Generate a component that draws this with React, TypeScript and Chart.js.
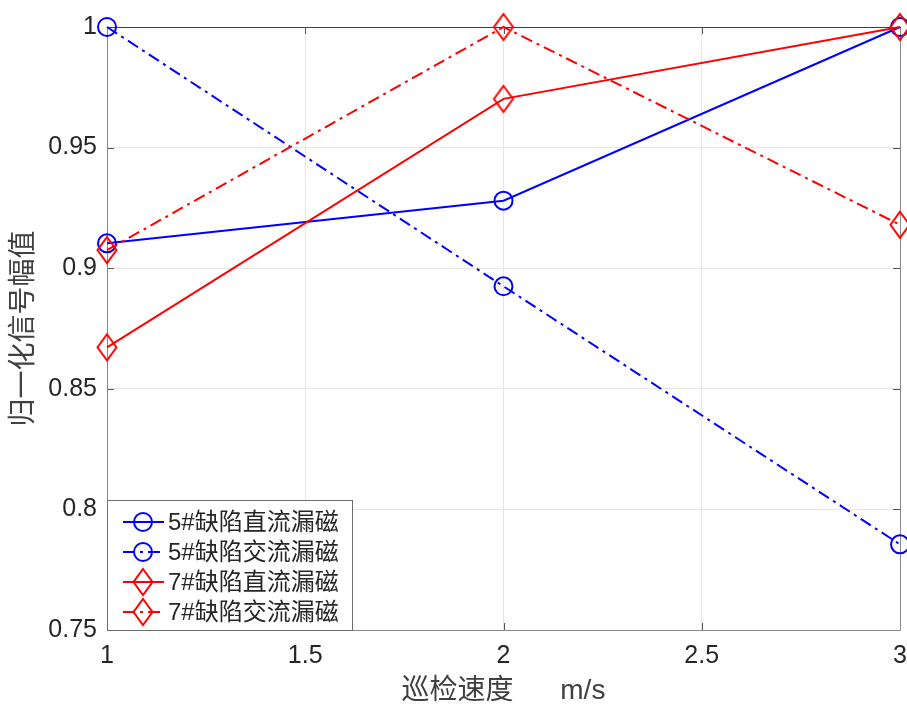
import React, { useEffect, useRef } from "react";
import { Chart, registerables } from "chart.js";

Chart.register(...registerables);

const xValues = [1, 2, 3];
const dc5 = [0.9103, 0.928, 1.0];
const ac5 = [1.0, 0.8925, 0.7855];
const dc7 = [0.8672, 0.9702, 1.0];
const ac7 = [0.9075, 1.0, 0.918];
const seriesNames = ["5#缺陷直流漏磁", "5#缺陷交流漏磁", "7#缺陷直流漏磁", "7#缺陷交流漏磁"];
const xTitle = "巡检速度      m/s";
const yTitle = "归一化信号幅值";

const BLUE = "#0000ff";
const RED = "#ff0000";
const DASHDOT = [12, 5, 3, 5];
const FONT = "'Liberation Sans', Arial, 'Noto Sans CJK SC', sans-serif";

function makeDiamond(color: string): HTMLCanvasElement {
  const c = document.createElement("canvas");
  c.width = 24;
  c.height = 30;
  const ctx = c.getContext("2d")!;
  ctx.strokeStyle = color;
  ctx.lineWidth = 2;
  ctx.beginPath();
  ctx.moveTo(12, 2);
  ctx.lineTo(21.5, 15);
  ctx.lineTo(12, 28);
  ctx.lineTo(2.5, 15);
  ctx.closePath();
  ctx.stroke();
  return c;
}

export default function App() {
  const ref = useRef<HTMLCanvasElement | null>(null);

  useEffect(() => {
    if (!ref.current) return;
    const diamond = makeDiamond(RED);
    const toPts = (ys: number[]) => xValues.map((x, i) => ({ x, y: ys[i] }));
    const mk = (label: string, ys: number[], color: string, dash: number[], style: any, order: number) => ({
      label,
      data: toPts(ys),
      borderColor: color,
      backgroundColor: "transparent",
      borderWidth: 2,
      borderDash: dash,
      pointStyle: style,
      pointRadius: 9,
      pointHoverRadius: 9,
      pointBorderWidth: 2,
      pointBorderColor: color,
      pointBackgroundColor: "transparent",
      tension: 0,
      clip: false as any,
      order,
    });

    const frame = {
      id: "frame",
      beforeDatasetsDraw(chart: any) {
        const { ctx, chartArea: a, scales } = chart;
        ctx.save();
        ctx.lineWidth = 1;
        ctx.strokeStyle = "#555";
        const L = 7;
        scales.x.ticks.forEach((t: any) => {
          const px = Math.round(scales.x.getPixelForValue(t.value)) + 0.5;
          ctx.beginPath();
          ctx.moveTo(px, a.bottom);
          ctx.lineTo(px, a.bottom - L);
          ctx.moveTo(px, a.top);
          ctx.lineTo(px, a.top + L);
          ctx.stroke();
        });
        scales.y.ticks.forEach((t: any) => {
          const py = Math.round(scales.y.getPixelForValue(t.value)) + 0.5;
          ctx.beginPath();
          ctx.moveTo(a.left, py);
          ctx.lineTo(a.left + L, py);
          ctx.moveTo(a.right, py);
          ctx.lineTo(a.right - L, py);
          ctx.stroke();
        });
        ctx.strokeStyle = "#8a8a8a";
        ctx.beginPath();
        ctx.moveTo(a.left + 0.5, a.top);
        ctx.lineTo(a.left + 0.5, a.bottom + 0.5);
        ctx.lineTo(a.right + 0.5, a.bottom + 0.5);
        ctx.lineTo(a.right + 0.5, a.top);
        ctx.stroke();
        ctx.strokeStyle = "#404040";
        ctx.beginPath();
        ctx.moveTo(a.left, a.top + 0.5);
        ctx.lineTo(a.right + 1, a.top + 0.5);
        ctx.stroke();
        ctx.restore();
      },
    };

    const legend = {
      id: "customLegend",
      afterDraw(chart: any) {
        const { ctx, chartArea: a } = chart;
        const bx = a.left;
        const by = 500;
        const bw = 245;
        const bh = a.bottom - by;
        ctx.save();
        ctx.fillStyle = "#ffffff";
        ctx.fillRect(bx, by, bw, bh);
        ctx.strokeStyle = "#6e6e6e";
        ctx.lineWidth = 1;
        ctx.strokeRect(bx + 0.5, by + 0.5, bw, bh);
        const items = [
          { color: BLUE, dash: [], marker: "circle" },
          { color: BLUE, dash: DASHDOT, marker: "circle" },
          { color: RED, dash: [], marker: "diamond" },
          { color: RED, dash: DASHDOT, marker: "diamond" },
        ];
        items.forEach((it, i) => {
          const cy = by + 22 + i * 30;
          ctx.strokeStyle = it.color;
          ctx.lineWidth = 2;
          ctx.setLineDash(it.dash);
          ctx.beginPath();
          ctx.moveTo(bx + 16, cy);
          ctx.lineTo(bx + 57, cy);
          ctx.stroke();
          ctx.setLineDash([]);
          const mx = bx + 36;
          if (it.marker === "circle") {
            ctx.beginPath();
            ctx.arc(mx, cy, 9, 0, Math.PI * 2);
            ctx.stroke();
          } else {
            ctx.drawImage(diamond, mx - 12, cy - 15);
          }
          ctx.fillStyle = "#262626";
          ctx.font = `24px ${FONT}`;
          ctx.textBaseline = "middle";
          ctx.textAlign = "left";
          ctx.fillText(seriesNames[i], bx + 61, cy + 1);
        });
        ctx.restore();
      },
    };

    const chart = new Chart(ref.current, {
      type: "line",
      data: {
        datasets: [
          mk(seriesNames[0], dc5, BLUE, [], "circle", 3),
          mk(seriesNames[1], ac5, BLUE, DASHDOT, "circle", 2),
          mk(seriesNames[2], dc7, RED, [], diamond, 1),
          mk(seriesNames[3], ac7, RED, DASHDOT, diamond, 0),
        ] as any,
      },
      options: {
        animation: false,
        responsive: false,
        devicePixelRatio: 1,
        layout: { autoPadding: false, padding: { left: 0, top: 27, right: 7, bottom: 0 } },
        plugins: {
          legend: { display: false },
          tooltip: { enabled: false },
        },
        scales: {
          x: {
            type: "linear",
            min: 1,
            max: 3,
            ticks: {
              stepSize: 0.5,
              padding: 11,
              color: "#262626",
              font: { family: FONT, size: 25 },
              callback: (v: any) => String(Math.round(Number(v) * 100) / 100),
            },
            grid: { color: "#e6e6e6", drawTicks: false },
            border: { display: false },
            title: {
              display: true,
              text: xTitle,
              color: "#404040",
              font: { family: FONT, size: 28 },
              padding: { top: 0, bottom: 0 },
            },
            afterFit: (s: any) => {
              s.height = 78;
              s.paddingLeft = 0;
              s.paddingRight = 0;
            },
          },
          y: {
            type: "linear",
            min: 0.75,
            max: 1,
            ticks: {
              stepSize: 0.05,
              padding: 10,
              color: "#262626",
              font: { family: FONT, size: 25 },
              callback: (v: any) => String(Math.round(Number(v) * 100) / 100),
            },
            grid: { color: "#e6e6e6", drawTicks: false },
            border: { display: false },
            title: {
              display: true,
              text: yTitle,
              color: "#404040",
              font: { family: FONT, size: 28 },
              padding: { top: 7, bottom: 0 },
            },
            afterFit: (s: any) => {
              s.width = 107;
              s.paddingTop = 0;
              s.paddingBottom = 0;
            },
          },
        },
      },
      plugins: [frame, legend],
    });
    return () => chart.destroy();
  }, []);

  return (
    <div style={{ position: "fixed", left: 0, top: 0, width: 907, height: 708, background: "#fff" }}>
      <canvas ref={ref} width={907} height={708} style={{ display: "block" }} />
    </div>
  );
}
